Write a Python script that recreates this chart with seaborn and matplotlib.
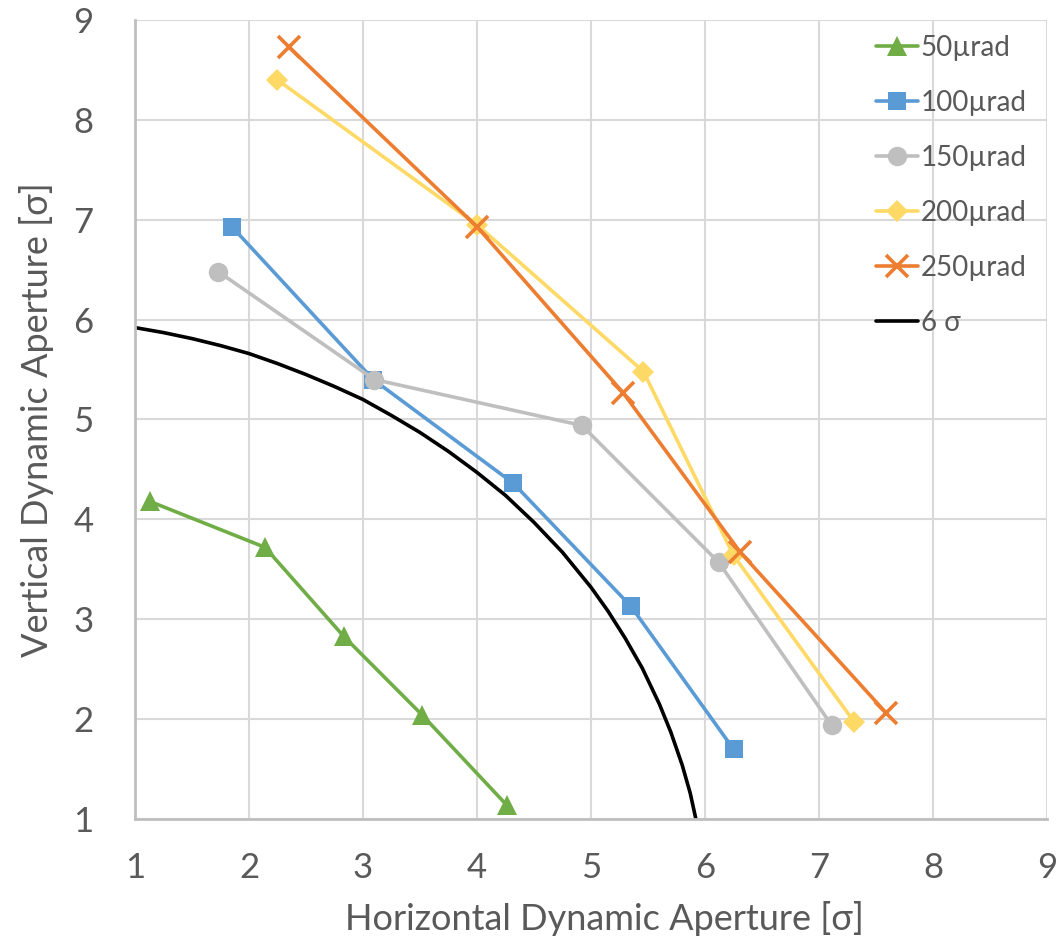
import numpy as np
import pandas as pd
import matplotlib.pyplot as plt
import seaborn as sns

# values (sigma units)
x_50 = [1.13, 2.14, 2.83, 3.52, 4.26]
y_50 = [4.18, 3.72, 2.83, 2.04, 1.14]
x_100 = [1.85, 3.09, 4.32, 5.35, 6.25]
y_100 = [6.93, 5.40, 4.36, 3.13, 1.70]
x_150 = [1.73, 3.10, 4.92, 6.12, 7.11]
y_150 = [6.48, 5.40, 4.94, 3.57, 1.94]
x_200 = [2.25, 4.00, 5.46, 6.25, 7.31]
y_200 = [8.40, 6.95, 5.48, 3.64, 1.97]
x_250 = [2.35, 4.00, 5.28, 6.31, 7.59]
y_250 = [8.73, 6.93, 5.27, 3.67, 2.06]

# 6 sigma boundary
x_6s = [0.0, 0.5, 1.0, 1.25, 1.5, 1.75, 2.0, 2.25, 2.5, 2.75, 3.0, 3.25, 3.5, 3.75,
        4.0, 4.25, 4.5, 4.75, 5.0, 5.15, 5.3, 5.45, 5.6, 5.7, 5.8, 5.87, 5.92, 5.97, 6.0]
y_6s = [6.0, 5.98, 5.92, 5.87, 5.81, 5.74, 5.66, 5.56, 5.45, 5.33, 5.20, 5.04, 4.87, 4.68,
        4.47, 4.24, 3.97, 3.67, 3.32, 3.08, 2.81, 2.51, 2.15, 1.87, 1.54, 1.26, 1.0, 0.6, 0.0]

labels = ['50µrad', '100µrad', '150µrad', '200µrad', '250µrad']
colors = ['#70AD47', '#5B9BD5', '#BFBFBF', '#FFD966', '#ED7D31']
markers = ['^', 's', 'o', 'D', 'x']
msizes = [15, 13, 14, 11, 16]
xs = [x_50, x_100, x_150, x_200, x_250]
ys = [y_50, y_100, y_150, y_200, y_250]

sns.set_style('white')
plt.rcParams['font.family'] = ['Lato', 'DejaVu Sans']
txt = '#595959'

fig = plt.figure(figsize=(10.56, 9.42), dpi=100)
ax = fig.add_axes([0.1278, 0.1306, 0.8637, 0.8482])

sns.lineplot(x=x_6s, y=y_6s, sort=False, color='black', linewidth=2.6,
             label='6 σ', ax=ax, zorder=2)
for i in range(5):
    kw = dict(markeredgewidth=0)
    if markers[i] == 'x':
        kw = dict(markeredgewidth=2.6, markeredgecolor=colors[i])
    sns.lineplot(x=xs[i], y=ys[i], sort=False, color=colors[i], linewidth=2.6,
                 marker=markers[i], markersize=msizes[i], label=labels[i],
                 ax=ax, zorder=3 + i, **kw)

ax.set_xlim(1, 9)
ax.set_ylim(1, 9)
ax.set_xticks(range(1, 10))
ax.set_yticks(range(1, 10))
ax.grid(True, color='#D9D9D9', linewidth=1.5)
ax.set_axisbelow(True)
for s in ['top', 'right']:
    ax.spines[s].set_visible(False)
for s in ['left', 'bottom']:
    ax.spines[s].set_color('#BFBFBF')
    ax.spines[s].set_linewidth(2)
ax.tick_params(axis='both', length=0, labelsize=25, labelcolor=txt)
ax.tick_params(axis='x', pad=24)
ax.tick_params(axis='y', pad=30)
ax.set_xlabel('Horizontal Dynamic Aperture [σ]', fontsize=26, color=txt)
ax.set_ylabel('Vertical Dynamic Aperture [σ]', fontsize=26, color=txt, labelpad=14)
ax.xaxis.set_label_coords(0.515, -0.103)

handles, labs = ax.get_legend_handles_labels()
order = [1, 2, 3, 4, 5, 0]
leg = ax.legend([handles[k] for k in order], [labs[k] for k in order],
                loc='upper right', bbox_to_anchor=(0.99, 0.995), frameon=False,
                fontsize=20, handlelength=1.5, handletextpad=0.1,
                labelspacing=1.04, borderaxespad=0)
for t in leg.get_texts():
    t.set_color(txt)

fig.savefig('out.png', dpi=100)
